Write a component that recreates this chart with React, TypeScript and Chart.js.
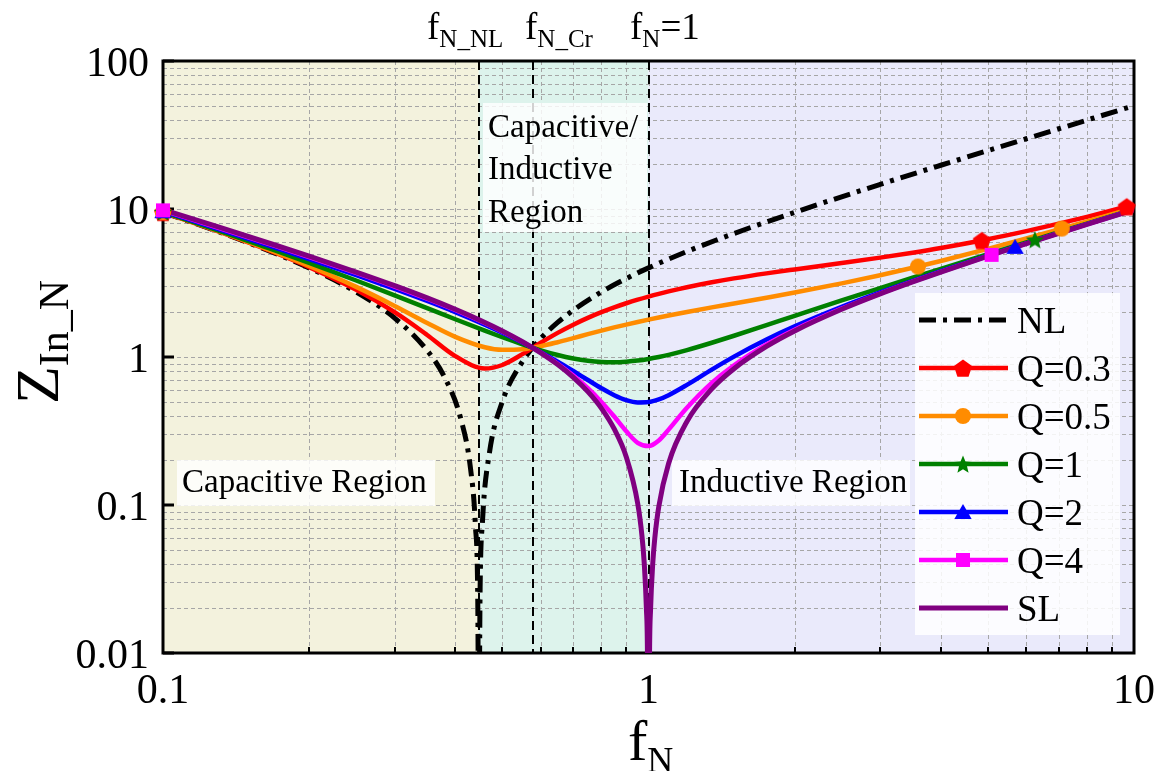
import React, { useEffect, useRef } from 'react';
import { Chart, registerables } from 'chart.js';

Chart.register(...registerables);

const FONT = '"Liberation Serif", "Times New Roman", Times, serif';

// ---------------- data ----------------
const nlX = [0.1, 0.13, 0.17, 0.2, 0.25, 0.3, 0.35, 0.38, 0.41, 0.43, 0.44, 0.445, 0.447, 0.45, 0.455, 0.47, 0.5, 0.55, 0.6, 0.65, 0.7, 0.8, 0.9, 1, 1.2, 1.5, 2, 3, 4, 5, 6, 7, 8, 10];
const nlY = [9.5, 7.042, 5.032, 4.0, 2.75, 1.833, 1.107, 0.7316, 0.389, 0.1756, 0.0727, 0.0222, 0.0021, 0.0278, 0.0772, 0.2223, 0.5, 0.9318, 1.333, 1.7115, 2.071, 2.75, 3.389, 4.0, 5.167, 6.833, 9.5, 14.667, 19.75, 24.8, 29.833, 34.857, 39.875, 49.9];

const qX = [0.1, 0.13, 0.17, 0.2, 0.25, 0.3, 0.35, 0.4, 0.46, 0.5, 0.55, 0.6, 0.65, 0.7, 0.75, 0.8, 0.85, 0.9, 0.95, 1, 1.05, 1.1, 1.2, 1.35, 1.5, 1.75, 2, 2.5, 3, 3.5, 4, 5, 6, 7, 8, 10];
const q03Y = [9.506, 7.055, 5.061, 4.048, 2.846, 2.008, 1.409, 1.014, 0.836, 0.883, 1.045, 1.249, 1.456, 1.654, 1.838, 2.008, 2.164, 2.308, 2.44, 2.561, 2.673, 2.776, 2.962, 3.199, 3.398, 3.674, 3.907, 4.315, 4.692, 5.067, 5.45, 6.248, 7.087, 7.959, 8.855, 10.7];
const q05Y = [9.515, 7.076, 5.107, 4.119, 2.977, 2.215, 1.7, 1.369, 1.164, 1.118, 1.128, 1.183, 1.259, 1.342, 1.426, 1.507, 1.584, 1.656, 1.725, 1.789, 1.85, 1.908, 2.016, 2.164, 2.301, 2.517, 2.725, 3.142, 3.568, 4.006, 4.455, 5.376, 6.319, 7.277, 8.244, 10.197];
const q1Y = [9.556, 7.156, 5.257, 4.33, 3.288, 2.609, 2.139, 1.8, 1.507, 1.36, 1.217, 1.11, 1.032, 0.978, 0.944, 0.926, 0.922, 0.93, 0.946, 0.97, 1.0, 1.034, 1.113, 1.248, 1.392, 1.643, 1.898, 2.412, 2.923, 3.433, 3.94, 4.951, 5.959, 6.965, 7.969, 9.975];
const q2Y = [9.658, 7.317, 5.483, 4.589, 3.572, 2.888, 2.39, 2.01, 1.654, 1.46, 1.254, 1.079, 0.931, 0.804, 0.699, 0.615, 0.552, 0.511, 0.493, 0.496, 0.517, 0.552, 0.648, 0.822, 1.006, 1.312, 1.61, 2.183, 2.733, 3.271, 3.799, 4.838, 5.865, 6.884, 7.899, 9.919];
const q4Y = [9.79, 7.467, 5.635, 4.734, 3.699, 2.993, 2.476, 2.076, 1.698, 1.49, 1.265, 1.07, 0.9, 0.749, 0.615, 0.497, 0.396, 0.315, 0.263, 0.25, 0.273, 0.323, 0.454, 0.669, 0.88, 1.214, 1.528, 2.121, 2.684, 3.229, 3.762, 4.81, 5.841, 6.864, 7.881, 9.905];

const slX = [0.1, 0.13, 0.17, 0.2, 0.25, 0.3, 0.35, 0.4, 0.45, 0.5, 0.55, 0.6, 0.65, 0.7, 0.75, 0.8, 0.85, 0.9, 0.95, 0.97, 0.98, 0.99, 0.995, 1, 1.005, 1.01, 1.02, 1.03, 1.05, 1.1, 1.2, 1.35, 1.5, 1.75, 2, 2.5, 3, 3.5, 4, 5, 6, 7, 8, 10];
const slY = [9.9, 7.562, 5.712, 4.8, 3.75, 3.033, 2.507, 2.1, 1.772, 1.5, 1.268, 1.067, 0.8885, 0.7286, 0.5833, 0.45, 0.3265, 0.2111, 0.1026, 0.0609, 0.0404, 0.0201, 0.01, 0.0005, 0.01, 0.0199, 0.0396, 0.0591, 0.0976, 0.1909, 0.3667, 0.6093, 0.8333, 1.1786, 1.5, 2.1, 2.667, 3.214, 3.75, 4.8, 5.833, 6.857, 7.875, 9.9];

// marker positions
const q03MarkX = [0.1, 4.86, 9.66];
const q03MarkY = [9.506, 6.134, 10.38];
const q05MarkX = [0.1, 3.59, 7.1];
const q05MarkY = [9.515, 4.086, 7.373];
const q1MarkX = [0.1, 6.25];
const q1MarkY = [9.556, 6.211];
const q2MarkX = [0.1, 5.69];
const q2MarkY = [9.658, 5.548];
const q4MarkX = [0.1, 5.09];
const q4MarkY = [9.79, 4.9];

const seriesLabels = ['NL', 'Q=0.3', 'Q=0.5', 'Q=1', 'Q=2', 'Q=4', 'SL'];
const seriesColors = ['#000000', '#ff0000', '#ff8c00', '#008000', '#0000ff', '#ff00ff', '#800080'];
const seriesShapes = ['none', 'pentagon', 'circle', 'star', 'triangle', 'square', 'none'];

// axes / ticks
const xMajorTicks = [0.1, 1, 10];
const xTickLabels = ['0.1', '1', '10'];
const yMajorTicks = [0.01, 0.1, 1, 10, 100];
const yTickLabels = ['0.01', '0.1', '1', '10', '100'];

// special frequencies and regions
const fNL = 0.447;
const fCr = 0.577;
const fOne = 1;
const regionEdges = [0.1, fNL, fOne, 10];
const regionColors = ['#f3f2dd', '#ddf3ec', '#eaeafb'];

const pts = (xs: number[], ys: number[]) => xs.map((x, i) => ({ x, y: ys[i] }));

function makeMarker(shape: string, color: string): HTMLCanvasElement {
  const c = document.createElement('canvas');
  const S = 24;
  c.width = S;
  c.height = S;
  const g = c.getContext('2d')!;
  const cx = S / 2;
  const cy = S / 2;
  g.fillStyle = color;
  g.beginPath();
  if (shape === 'circle') {
    g.arc(cx, cy, 8, 0, Math.PI * 2);
  } else if (shape === 'pentagon') {
    for (let k = 0; k < 5; k++) {
      const a = -Math.PI / 2 + (k * 2 * Math.PI) / 5;
      const px = cx + 9.5 * Math.cos(a);
      const py = cy + 1 + 9.5 * Math.sin(a);
      if (k === 0) g.moveTo(px, py);
      else g.lineTo(px, py);
    }
    g.closePath();
  } else if (shape === 'star') {
    for (let k = 0; k < 10; k++) {
      const a = -Math.PI / 2 + (k * Math.PI) / 5;
      const r = k % 2 === 0 ? 9.5 : 4.2;
      const px = cx + r * Math.cos(a);
      const py = cy + 1 + r * Math.sin(a);
      if (k === 0) g.moveTo(px, py);
      else g.lineTo(px, py);
    }
    g.closePath();
  } else if (shape === 'triangle') {
    const r = 10;
    for (let k = 0; k < 3; k++) {
      const a = -Math.PI / 2 + (k * 2 * Math.PI) / 3;
      const px = cx + r * Math.cos(a);
      const py = cy + 2 + r * Math.sin(a);
      if (k === 0) g.moveTo(px, py);
      else g.lineTo(px, py);
    }
    g.closePath();
  } else if (shape === 'square') {
    g.rect(cx - 7, cy - 7, 14, 14);
  }
  g.fill();
  return c;
}

function drawRich(ctx: CanvasRenderingContext2D, parts: { t: string; size: number; dy: number }[], x: number, y: number) {
  let cx = x;
  for (const p of parts) {
    ctx.font = `${p.size}px ${FONT}`;
    ctx.fillText(p.t, cx, y + p.dy);
    cx += ctx.measureText(p.t).width;
  }
}

export default function App() {
  const ref = useRef<HTMLCanvasElement | null>(null);

  useEffect(() => {
    let chart: Chart | null = null;
    let cancelled = false;

    const build = () => {
      if (cancelled || !ref.current) return;
      const markers = seriesShapes.map((s, i) => (s === 'none' ? null : makeMarker(s, seriesColors[i])));
      const dashNL = [17, 7, 4, 7];

      const lineDs = (label: string, xs: number[], ys: number[], color: string, order: number, width = 4.5, dash: number[] = []) => ({
        label,
        data: pts(xs, ys),
        borderColor: color,
        backgroundColor: color,
        borderWidth: width,
        borderDash: dash,
        pointRadius: 0,
        fill: false,
        cubicInterpolationMode: 'monotone' as const,
        order,
      });
      const markDs = (xs: number[], ys: number[], idx: number, order: number) => ({
        label: seriesLabels[idx] + ' markers',
        data: pts(xs, ys),
        showLine: false,
        pointStyle: markers[idx] as any,
        pointRadius: 9,
        borderColor: seriesColors[idx],
        backgroundColor: seriesColors[idx],
        clip: false as any,
        order,
      });

      const datasets: any[] = [
        lineDs('NL', nlX, nlY, seriesColors[0], 8, 5, dashNL),
        lineDs('Q=0.3', qX, q03Y, seriesColors[1], 7),
        lineDs('Q=0.5', qX, q05Y, seriesColors[2], 6),
        lineDs('Q=1', qX, q1Y, seriesColors[3], 5),
        lineDs('Q=2', qX, q2Y, seriesColors[4], 4),
        lineDs('Q=4', qX, q4Y, seriesColors[5], 3),
        lineDs('SL', slX, slY, seriesColors[6], 2, 5),
        markDs(q03MarkX, q03MarkY, 1, -1),
        markDs(q05MarkX, q05MarkY, 2, -2),
        markDs(q1MarkX, q1MarkY, 3, -3),
        markDs(q2MarkX, q2MarkY, 4, -4),
        markDs(q4MarkX, q4MarkY, 5, -5),
      ];

      const decor = {
        id: 'decor',
        beforeDraw(ch: any) {
          const { ctx, chartArea: a } = ch;
          const xs = ch.scales.x;
          const ys = ch.scales.y;
          ctx.save();
          // region backgrounds
          for (let i = 0; i < regionColors.length; i++) {
            const x0 = xs.getPixelForValue(regionEdges[i]);
            const x1 = xs.getPixelForValue(regionEdges[i + 1]);
            ctx.fillStyle = regionColors[i];
            ctx.fillRect(x0, a.top, x1 - x0, a.bottom - a.top);
          }
          // grid lines (major + minor)
          ctx.strokeStyle = '#a6a6a6';
          ctx.lineWidth = 1;
          ctx.setLineDash([4, 3]);
          for (const d of [0.1, 1]) {
            for (let m = 1; m <= 9; m++) {
              const v = m * d;
              if (v <= 0.1 + 1e-9) continue;
              const px = Math.round(xs.getPixelForValue(v)) + 0.5;
              ctx.beginPath();
              ctx.moveTo(px, a.top);
              ctx.lineTo(px, a.bottom);
              ctx.stroke();
            }
          }
          for (const d of [0.01, 0.1, 1, 10]) {
            for (let m = 1; m <= 9; m++) {
              const v = m * d;
              if (v <= 0.01 + 1e-9) continue;
              const py = Math.round(ys.getPixelForValue(v)) + 0.5;
              ctx.beginPath();
              ctx.moveTo(a.left, py);
              ctx.lineTo(a.right, py);
              ctx.stroke();
            }
          }
          // vertical dashed markers
          ctx.strokeStyle = '#000';
          ctx.lineWidth = 2;
          ctx.setLineDash([9, 5]);
          for (const f of [fNL, fCr, fOne]) {
            const px = Math.round(xs.getPixelForValue(f));
            ctx.beginPath();
            ctx.moveTo(px, a.top);
            ctx.lineTo(px, a.bottom);
            ctx.stroke();
          }
          ctx.setLineDash([]);
          // text boxes
          ctx.fillStyle = 'rgba(255,255,255,0.82)';
          ctx.fillRect(483, 103, 164, 129);
          ctx.fillRect(177, 460, 258, 46);
          ctx.fillRect(672, 460, 238, 46);
          ctx.fillStyle = '#000';
          ctx.font = `33px ${FONT}`;
          ctx.textAlign = 'left';
          ctx.textBaseline = 'alphabetic';
          ctx.fillText('Capacitive/', 488, 137);
          ctx.fillText('Inductive', 488, 179);
          ctx.fillText('Region', 488, 222);
          ctx.fillText('Capacitive Region', 182, 492);
          ctx.fillText('Inductive Region', 679, 492);
          // frame
          ctx.strokeStyle = '#000';
          ctx.lineWidth = 3;
          ctx.strokeRect(a.left, a.top, a.right - a.left, a.bottom - a.top);
          // ticks
          ctx.lineWidth = 2;
          for (const d of [0.1, 1]) {
            for (let m = 1; m <= 9; m++) {
              const v = m * d;
              if (v <= 0.1 + 1e-9) continue;
              const px = Math.round(xs.getPixelForValue(v));
              ctx.beginPath();
              ctx.moveTo(px, a.bottom);
              ctx.lineTo(px, a.bottom - 6);
              ctx.stroke();
            }
          }
          ctx.lineWidth = 3;
          for (const v of yMajorTicks) {
            const py = Math.round(ys.getPixelForValue(v));
            ctx.beginPath();
            ctx.moveTo(a.left, py);
            ctx.lineTo(a.left + 11, py);
            ctx.stroke();
          }
          ctx.restore();
        },
        afterDraw(ch: any) {
          const { ctx, chartArea: a } = ch;
          const xs = ch.scales.x;
          const ys = ch.scales.y;
          ctx.save();
          ctx.fillStyle = '#000';
          ctx.textBaseline = 'alphabetic';
          // tick labels
          ctx.font = `42px ${FONT}`;
          ctx.textAlign = 'right';
          yMajorTicks.forEach((v, i) => {
            ctx.fillText(yTickLabels[i], a.left - 14, ys.getPixelForValue(v) + 14.5);
          });
          ctx.textAlign = 'center';
          xMajorTicks.forEach((v, i) => {
            ctx.fillText(xTickLabels[i], xs.getPixelForValue(v), a.bottom + 50);
          });
          ctx.textAlign = 'left';
          // x title
          drawRich(ctx, [
            { t: 'f', size: 58, dy: 0 },
            { t: 'N', size: 36, dy: 12 },
          ], 628, 760);
          // y title
          ctx.save();
          ctx.translate(58, 404);
          ctx.rotate(-Math.PI / 2);
          drawRich(ctx, [
            { t: 'Z', size: 62, dy: 0 },
            { t: 'In_N', size: 42, dy: 10 },
          ], 0, 0);
          ctx.restore();
          // top labels
          drawRich(ctx, [
            { t: 'f', size: 37, dy: 0 },
            { t: 'N_NL', size: 25, dy: 8 },
          ], 427, 39);
          drawRich(ctx, [
            { t: 'f', size: 37, dy: 0 },
            { t: 'N_Cr', size: 25, dy: 8 },
          ], 525, 39);
          drawRich(ctx, [
            { t: 'f', size: 37, dy: 0 },
            { t: 'N', size: 25, dy: 8 },
            { t: '=1', size: 37, dy: 0 },
          ], 630, 39);
          // legend
          ctx.fillStyle = 'rgba(255,255,255,0.85)';
          ctx.fillRect(915, 293, 205, 342);
          const ds = ch.data.datasets;
          for (let i = 0; i < seriesLabels.length; i++) {
            const cy = 320 + i * 48;
            ctx.strokeStyle = seriesColors[i];
            ctx.lineWidth = i === 0 || i === 6 ? 5 : 4.5;
            ctx.setLineDash(ds[i].borderDash || []);
            ctx.beginPath();
            ctx.moveTo(919, cy);
            ctx.lineTo(1008, cy);
            ctx.stroke();
            ctx.setLineDash([]);
            const mk = markers[i];
            if (mk) ctx.drawImage(mk, 963 - mk.width / 2, cy - mk.height / 2);
            ctx.fillStyle = '#000';
            ctx.font = `37px ${FONT}`;
            ctx.fillText(seriesLabels[i], 1017, cy + 13);
          }
          ctx.restore();
        },
      };

      chart = new Chart(ref.current, {
        type: 'line',
        data: { datasets },
        options: {
          responsive: false,
          animation: false,
          events: [],
          layout: { padding: { left: 163, top: 61, right: 30, bottom: 118 }, autoPadding: false },
          scales: {
            x: { type: 'logarithmic', min: 0.1, max: 10, display: false },
            y: { type: 'logarithmic', min: 0.01, max: 100, display: false },
          },
          plugins: { legend: { display: false }, tooltip: { enabled: false } },
        },
        plugins: [decor],
      } as any);
    };

    const fontsReady = (document as any).fonts && (document as any).fonts.load
      ? Promise.all([
          (document as any).fonts.load(`42px "Liberation Serif"`),
        ]).catch(() => null)
      : Promise.resolve(null);
    fontsReady.then(build);

    return () => {
      cancelled = true;
      if (chart) chart.destroy();
    };
  }, []);

  return (
    <canvas
      ref={ref}
      width={1164}
      height={771}
      style={{ position: 'absolute', left: 0, top: 0, display: 'block' }}
    />
  );
}
